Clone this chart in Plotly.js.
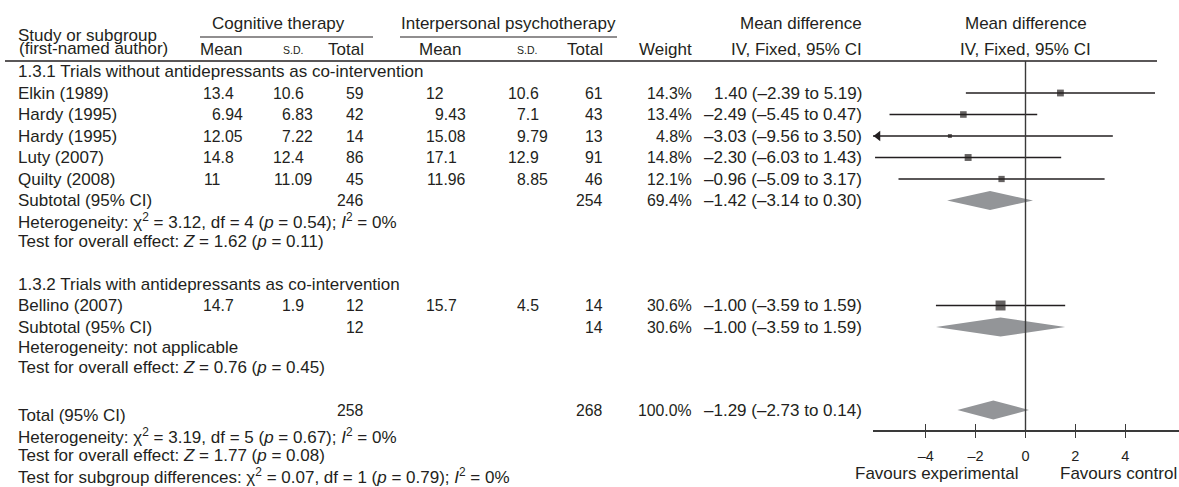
<!DOCTYPE html>
<html>
<head>
<meta charset="utf-8">
<script src="https://cdn.plot.ly/plotly-3.0.1.min.js"></script>
<style>
  html, body { margin: 0; padding: 0; background: #fff; }
  #chart { width: 1179px; height: 487px; }
</style>
</head>
<body>
<div id="chart"></div>
<script>
// ---- Study data: cognitive therapy (CT) vs interpersonal psychotherapy (IPT) ----
const studies   = ['Elkin (1989)', 'Hardy (1995)', 'Hardy (1995)', 'Luty (2007)', 'Quilty (2008)', 'Bellino (2007)'];
const subgroupOf = [0, 0, 0, 0, 0, 1];
const ctMean    = [13.4, 6.94, 12.05, 14.8, 11, 14.7];
const ctSD      = [10.6, 6.83, 7.22, 12.4, 11.09, 1.9];
const ctN       = [59, 42, 14, 86, 45, 12];
const iptMean   = [12, 9.43, 15.08, 17.1, 11.96, 15.7];
const iptSD     = [10.6, 7.1, 9.79, 12.9, 8.85, 4.5];
const iptN      = [61, 43, 13, 91, 46, 14];
const weight    = [14.3, 13.4, 4.8, 14.8, 12.1, 30.6];
const md        = [1.40, -2.49, -3.03, -2.30, -0.96, -1.00];
const mdLo      = [-2.39, -5.45, -9.56, -6.03, -5.09, -3.59];
const mdHi      = [5.19, 0.47, 3.50, 1.43, 3.17, 1.59];

// ---- Subgroup summaries ----
const subgroupTitles = ['1.3.1 Trials without antidepressants as co-intervention',
                        '1.3.2 Trials with antidepressants as co-intervention'];
const subCtN    = [246, 12];
const subIptN   = [254, 14];
const subWeight = [69.4, 30.6];
const subMd     = [-1.42, -1.00];
const subLo     = [-3.14, -3.59];
const subHi     = [0.30, 1.59];
const subChi2   = [3.12, null];
const subDf     = [4, null];
const subHetP   = [0.54, null];
const subI2     = [0, null];
const subZ      = [1.62, 0.76];
const subZp     = [0.11, 0.45];

// ---- Pooled total ----
const totalCtN = 258, totalIptN = 268, totalWeight = 100.0;
const totalMd = -1.29, totalLo = -2.73, totalHi = 0.14;
const totalChi2 = 3.19, totalDf = 5, totalHetP = 0.67, totalI2 = 0;
const totalZ = 1.77, totalZp = 0.08;
const diffChi2 = 0.07, diffDf = 1, diffP = 0.79, diffI2 = 0;

// ---- Forest axis ticks ----
const axisTicks    = [-4, -2, 0, 2, 4];
const axisTickText = ['\u20134', '\u20132', '0', '2', '4'];

// ---------------------------------------------------------------
const W = 1179, H = 487;
const FONT = 'Liberation Sans, Arial, Helvetica, sans-serif';
const FS = 17;        // running text
const NUM_FS = 15.8;  // numeric table columns
const MD_FS = 17;     // effect-size column
const TICK_FS = 14.5; // forest axis tick labels
const INK = '#231f20';
const DIAMOND = '#939598';

// column geometry (pixels from the left)
const col = {
  label: 17,
  ctMeanInt: 222, ctSdInt: 292, ctN: 365,
  iptMeanInt: 445, iptSdInt: 527, iptN: 604,
  weight: 693, mdText: 863, forestMid: 1025.5
};
const forestLeftPx = 873, zeroPx = 1025.5, pxPerUnit = 24.95;
const xRange = [(forestLeftPx - zeroPx) / pxPerUnit, (W - zeroPx) / pxPerUnit];
const axisY = 430;

// row geometry (pixels from the top)
const rowStep = 21.5;
const groupHeadY = [71.5, 284];
const totalY = 410, totalLabelY = 415;
const diamondHalf = 9.5;

const dash = v => (v < 0 ? '\u2013' : '') + Math.abs(v).toFixed(2);
const ciText = (m, l, h) => `${dash(m)} (${dash(l)} to ${dash(h)})`;
const hetText = (c, d, p, i2) => c === null ? 'Heterogeneity: not applicable'
  : `Heterogeneity: \u03c7<sup>2</sup> = ${c.toFixed(2)}, df = ${d} (<i>p</i> = ${p.toFixed(2)}); <i>I</i><sup>2</sup> = ${i2}%`;
const zText = (z, p) => `Test for overall effect: <i>Z</i> = ${z.toFixed(2)} (<i>p</i> = ${p.toFixed(2)})`;

// right edge for a number whose integer part ends at intEdge (decimal alignment)
function decRight(intEdge, v) {
  const s = String(v), dot = s.indexOf('.');
  if (dot < 0) return intEdge;
  return intEdge + (0.278 + 0.556 * (s.length - dot - 1)) * NUM_FS;
}

const annotations = [];
function txt(xpx, y, text, anchor, size) {
  annotations.push({
    xref: 'paper', yref: 'y', x: xpx / W, y: y, text: text,
    xanchor: anchor || 'left', yanchor: 'middle', showarrow: false, borderpad: 0,
    font: { family: FONT, size: size || FS, color: INK }
  });
}
const num = (xpx, y, text) => txt(xpx, y, text, 'right', NUM_FS);

// ---- Header ----
const headTopY = 23, headSubY = 49;
txt(col.label, 35, 'Study or subgroup');
txt(col.label + 1, 48.5, '(first-named author)');
txt(278, headTopY, 'Cognitive therapy', 'center');
txt(508, headTopY, 'Interpersonal psychotherapy', 'center');
txt(col.mdText, headTopY, 'Mean difference', 'right');
txt(col.forestMid, headTopY, 'Mean difference', 'center');
txt(221, headSubY, 'Mean', 'center');
txt(292.5, headSubY + 1, 'S.D.', 'center', 10.5);
txt(col.ctN, headSubY, 'Total', 'right');
txt(440, headSubY, 'Mean', 'center');
txt(526.5, headSubY + 1, 'S.D.', 'center', 10.5);
txt(col.iptN, headSubY, 'Total', 'right');
txt(col.weight, headSubY, 'Weight', 'right');
txt(col.mdText, headSubY, 'IV, Fixed, 95% CI', 'right');
txt(col.forestMid, headSubY, 'IV, Fixed, 95% CI', 'center');

// ---- Study rows, subgroup blocks ----
const studyY = [];
const subY = [];
[0, 1].forEach(g => {
  txt(col.label, groupHeadY[g], subgroupTitles[g]);
  let k = 0;
  studies.forEach((name, i) => {
    if (subgroupOf[i] !== g) return;
    k += 1;
    const y = groupHeadY[g] + k * rowStep;
    studyY[i] = y;
    txt(col.label, y, name);
    num(decRight(col.ctMeanInt, ctMean[i]), y, String(ctMean[i]));
    num(decRight(col.ctSdInt, ctSD[i]), y, String(ctSD[i]));
    num(col.ctN, y, String(ctN[i]));
    num(decRight(col.iptMeanInt, iptMean[i]), y, String(iptMean[i]));
    num(decRight(col.iptSdInt, iptSD[i]), y, String(iptSD[i]));
    num(col.iptN, y, String(iptN[i]));
    num(col.weight, y, weight[i].toFixed(1) + '%');
    txt(col.mdText, y, ciText(md[i], mdLo[i], mdHi[i]), 'right', MD_FS);
  });
  const sy = groupHeadY[g] + (k + 1) * rowStep;
  subY[g] = sy;
  txt(col.label, sy, 'Subtotal (95% CI)');
  num(col.ctN, sy, String(subCtN[g]));
  num(col.iptN, sy, String(subIptN[g]));
  num(col.weight, sy, subWeight[g].toFixed(1) + '%');
  txt(col.mdText, sy, ciText(subMd[g], subLo[g], subHi[g]), 'right', MD_FS);
  txt(col.label, sy + 20.5, hetText(subChi2[g], subDf[g], subHetP[g], subI2[g]));
  txt(col.label, sy + 40.5, zText(subZ[g], subZp[g]));
});

// ---- Total block ----
txt(col.label, totalLabelY, 'Total (95% CI)');
num(col.ctN, totalY, String(totalCtN));
num(col.iptN, totalY, String(totalIptN));
num(col.weight, totalY, totalWeight.toFixed(1) + '%');
txt(col.mdText, totalY, ciText(totalMd, totalLo, totalHi), 'right', MD_FS);
txt(col.label, 435.5, hetText(totalChi2, totalDf, totalHetP, totalI2));
txt(col.label, 455.5, zText(totalZ, totalZp));
txt(col.label, 475.5, `Test for subgroup differences: \u03c7<sup>2</sup> = ${diffChi2.toFixed(2)}, df = ${diffDf} (<i>p</i> = ${diffP.toFixed(2)}); <i>I</i><sup>2</sup> = ${diffI2}%`);

// ---- Forest axis captions ----
txt(936, 473, 'Favours experimental', 'center');
txt(1118, 473, 'Favours control', 'center');

// ---- Traces ----
const traces = [];

// confidence interval segments
const ciX = [], ciY = [];
studies.forEach((_, i) => { ciX.push(mdLo[i], mdHi[i], null); ciY.push(studyY[i], studyY[i], null); });
traces.push({ type: 'scatter', mode: 'lines', x: ciX, y: ciY,
  line: { color: INK, width: 1.3 }, hoverinfo: 'skip' });

// arrows where an interval runs past the axis
const arrowX = [], arrowY = [];
studies.forEach((_, i) => { if (mdLo[i] < xRange[0]) { arrowX.push(xRange[0] + 0.2); arrowY.push(studyY[i]); } });
traces.push({ type: 'scatter', mode: 'markers', x: arrowX, y: arrowY, cliponaxis: false,
  marker: { symbol: 'triangle-left', size: 9, color: INK, line: { width: 0 } }, hoverinfo: 'skip' });

// point estimates, box area scaled by weight
traces.push({ type: 'scatter', mode: 'markers', x: md, y: studyY,
  marker: { symbol: 'square', size: weight.map(w => 1.8 * Math.sqrt(w)), color: INK, line: { width: 0 } },
  hoverinfo: 'skip' });

// pooled diamonds
function diamond(m, l, h, y) {
  traces.push({ type: 'scatter', mode: 'lines', fill: 'toself', fillcolor: DIAMOND,
    x: [l, m, h, m, l], y: [y, y - diamondHalf, y, y + diamondHalf, y],
    line: { width: 0, color: DIAMOND }, hoverinfo: 'skip' });
}
subMd.forEach((m, g) => diamond(m, subLo[g], subHi[g], subY[g]));
diamond(totalMd, totalLo, totalHi, totalY);

// a transparent point keeps the second x axis alive for its upward tick marks
traces.push({ type: 'scatter', mode: 'markers', x: [0], y: [0], xaxis: 'x2', yaxis: 'y',
  marker: { opacity: 0 }, hoverinfo: 'skip' });

// ---- Layout ----
const layout = {
  width: W, height: H,
  margin: { l: 0, r: 0, t: 0, b: 0 },
  paper_bgcolor: '#fff', plot_bgcolor: 'rgba(0,0,0,0)',
  showlegend: false,
  font: { family: FONT, size: FS, color: INK },
  xaxis: {
    domain: [forestLeftPx / W, 1], range: xRange,
    anchor: 'free', position: 1 - axisY / H,
    showgrid: false, zeroline: false, showline: true, linecolor: '#3a3a3a', linewidth: 1.5,
    ticks: 'outside', ticklen: 6, tickwidth: 1.3, tickcolor: '#3a3a3a',
    tickmode: 'array', tickvals: axisTicks, ticktext: axisTickText,
    ticklabelstandoff: 6,
    tickfont: { family: FONT, size: TICK_FS, color: INK }, fixedrange: true
  },
  xaxis2: {
    overlaying: 'x', matches: 'x', domain: [forestLeftPx / W, 1], range: xRange,
    anchor: 'free', position: 1 - axisY / H, side: 'bottom',
    showgrid: false, zeroline: false, showline: false,
    ticks: 'inside', ticklen: 6, tickwidth: 1.3, tickcolor: '#3a3a3a',
    tickmode: 'array', tickvals: axisTicks, showticklabels: false
  },
  yaxis: { domain: [0, 1], range: [H, 0], visible: false, fixedrange: true },
  shapes: [
    // rule under column headings
    { type: 'line', xref: 'paper', yref: 'y', x0: 5 / W, x1: 1157 / W, y0: 61, y1: 61,
      line: { color: INK, width: 1.5 } },
    // group heading underlines
    { type: 'line', xref: 'paper', yref: 'y', x0: 200 / W, x1: 373 / W, y0: 37, y1: 37,
      line: { color: INK, width: 1.2 } },
    { type: 'line', xref: 'paper', yref: 'y', x0: 400 / W, x1: 617 / W, y0: 37, y1: 37,
      line: { color: INK, width: 1.2 } },
    // line of no effect
    { type: 'line', xref: 'x', yref: 'y', x0: 0, x1: 0, y0: 61, y1: axisY,
      line: { color: '#3a3a3a', width: 1.4 } }
  ],
  annotations: annotations
};

Plotly.newPlot('chart', traces, layout, { staticPlot: true, displayModeBar: false });
</script>
</body>
</html>
